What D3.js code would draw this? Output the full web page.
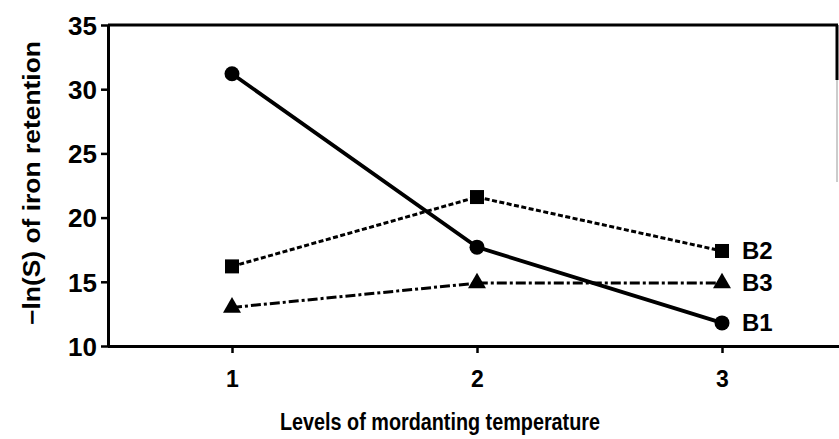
<!DOCTYPE html>
<html>
<head>
<meta charset="utf-8">
<script src="https://cdn.jsdelivr.net/npm/d3@7"></script>
<style>
  body { margin: 0; background: #fff; }
  svg { display: block; }
  text { font-family: "Liberation Sans", Arial, sans-serif; font-weight: bold; fill: #000; }
</style>
</head>
<body>
<svg id="chart" width="839" height="439"></svg>
<script>
const levels = [1, 2, 3];
const yTicks = [10, 15, 20, 25, 30, 35];
const seriesNames = ["B1", "B2", "B3"];
const b1 = [31.2, 17.7, 11.8];
const b2 = [16.2, 21.6, 17.4];
const b3 = [13.0, 14.9, 14.9];

const svg = d3.select("#chart");
const plotLeft = 108, plotTop = 25, plotBottom = 346, plotRight = 838;

const x = d3.scaleLinear().domain([1, 3]).range([232, 722]);
const y = d3.scaleLinear().domain([10, 35]).range([plotBottom, plotTop]);

// frame
svg.append("line").attr("x1", plotLeft).attr("x2", plotRight).attr("y1", plotTop).attr("y2", plotTop)
  .attr("stroke", "#000").attr("stroke-width", 3);
svg.append("line").attr("x1", plotRight - 1).attr("x2", plotRight - 1).attr("y1", plotTop).attr("y2", 80)
  .attr("stroke", "#000").attr("stroke-width", 3);
svg.append("line").attr("x1", plotRight - 1).attr("x2", plotRight - 1).attr("y1", 80).attr("y2", 182)
  .attr("stroke", "#999").attr("stroke-width", 1);

const yAxis = svg.append("g").attr("transform", `translate(${plotLeft},0)`)
  .call(d3.axisLeft(y).tickValues(yTicks).tickSize(7).tickSizeOuter(0).tickPadding(4));
const xAxis = svg.append("g").attr("transform", `translate(0,${plotBottom})`)
  .call(d3.axisBottom(x).tickValues(levels).tickSize(7).tickSizeOuter(0).tickPadding(18)
    .tickFormat(d3.format("d")));
xAxis.select(".domain").attr("d", `M${plotLeft},0.5H${839}`);

yAxis.attr("font-size", 26).attr("font-family", null);
xAxis.attr("font-size", 23).attr("font-family", null);
[yAxis, xAxis].forEach(g => {
  g.select(".domain").attr("stroke", "#000").attr("stroke-width", 3);
  g.selectAll(".tick line").attr("stroke", "#000").attr("stroke-width", 2.5);
  g.selectAll(".tick text").attr("fill", "#000");
});
yAxis.selectAll(".tick text").attr("dy", "0.36em");

const line = d3.line().x((d, i) => x(levels[i])).y(d => y(d));
const styles = [
  { data: b1, dash: null, width: 3.8 },
  { data: b2, dash: "5,2.5", width: 3 },
  { data: b3, dash: "10,3,3,3", width: 3 }
];
styles.forEach(s => {
  svg.append("path").datum(s.data).attr("d", line).attr("fill", "none")
    .attr("stroke", "#000").attr("stroke-width", s.width)
    .attr("stroke-dasharray", s.dash);
});

// markers
svg.append("g").selectAll("circle").data(b1).join("circle")
  .attr("cx", (d, i) => x(levels[i])).attr("cy", d => y(d)).attr("r", 7.5).attr("fill", "#000");
svg.append("g").selectAll("rect").data(b2).join("rect")
  .attr("x", (d, i) => x(levels[i]) - 7).attr("y", d => y(d) - 7)
  .attr("width", 14).attr("height", 14).attr("fill", "#000");
svg.append("g").selectAll("path").data(b3).join("path")
  .attr("transform", (d, i) => `translate(${x(levels[i])},${y(d)})`)
  .attr("d", d3.symbol(d3.symbolTriangle, 140)).attr("fill", "#000");

// series labels at level 3
const lastVals = [b1[2], b2[2], b3[2]];
svg.append("g").selectAll("text").data(seriesNames).join("text")
  .attr("x", x(3) + 20).attr("y", (d, i) => y(lastVals[i]) + 8)
  .style("font-size", "24px").text(d => d);

// axis titles
svg.append("text").attr("transform", `translate(40,183) rotate(-90)`)
  .attr("text-anchor", "middle").style("font-size", "23px")
  .attr("textLength", 284).attr("lengthAdjust", "spacingAndGlyphs")
  .text("\u2212ln(S) of iron retention");
svg.append("text").attr("x", 440).attr("y", 430).attr("text-anchor", "middle")
  .style("font-size", "23px")
  .attr("textLength", 320).attr("lengthAdjust", "spacingAndGlyphs")
  .text("Levels of mordanting temperature");
</script>
</body>
</html>
